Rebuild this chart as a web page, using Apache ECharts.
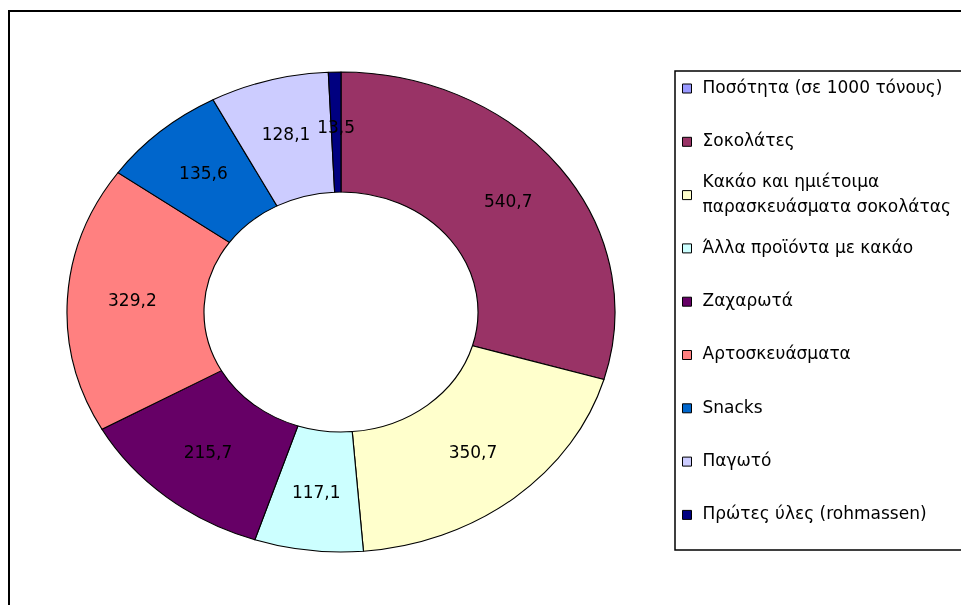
<!DOCTYPE html>
<html>
<head>
<meta charset="utf-8">
<script src="https://cdn.jsdelivr.net/npm/echarts@6/dist/echarts.min.js"></script>
<style>
    html, body { margin: 0; padding: 0; background: #fff; }
    #ring, #front { position: absolute; left: 0; top: 0; width: 961px; height: 605px; }
    /* the ring is drawn round and stretched sideways, like the Excel doughnut */
    #ring { transform: scaleX(1.1417); transform-origin: 341px 312px; }
</style>
</head>
<body>
<div id="ring"></div>
<div id="front"></div>
<script>
// categories and values (σε 1000 τόνους); the first entry has no slice
const categories = [
    'Ποσότητα (σε 1000 τόνους)',
    'Σοκολάτες',
    'Κακάο και ημιέτοιμα\nπαρασκευάσματα σοκολάτας',
    'Άλλα προϊόντα με κακάο',
    'Ζαχαρωτά',
    'Αρτοσκευάσματα',
    'Snacks',
    'Παγωτό',
    'Πρώτες ύλες (rohmassen)'
]
const values = ['-', 540.7, 350.7, 117.1, 215.7, 329.2, 135.6, 128.1, 13.5]

// styles and layout
const colors = ['#9999FF', '#993366', '#FFFFCC', '#CCFFFF', '#660066', '#FF8080', '#0066CC', '#CCCCFF', '#000080']
const center = [341, 312]
const radius = [120, 240]
const stretchX = 274 / 240
const legendY = [88.5, 141.8, 195.1, 248.4, 301.7, 355, 408.3, 461.6, 514.9]
const font = '"DejaVu Sans", sans-serif'

function fmt(v) {
    return v.toFixed(1).replace('.', ',')
}

// ring
const ring = echarts.init(document.getElementById('ring'), null, { renderer: 'svg' })
ring.setOption({
    animation: false,
    series: [{
        type: 'pie',
        center: center,
        radius: radius,
        startAngle: 90,
        clockwise: true,
        silent: true,
        label: { show: false },
        labelLine: { show: false },
        emphasis: { disabled: true },
        itemStyle: { borderColor: '#000', borderWidth: 1 },
        data: categories.map((name, i) => ({
            name: name,
            value: values[i],
            itemStyle: { color: colors[i] }
        }))
    }]
})

// labels, legend and frames on top
const front = echarts.init(document.getElementById('front'))
front.setOption({
    animation: false,
    legend: categories.map((name, i) => ({
        orient: 'vertical',
        left: 682,
        top: legendY[i] - (i === 2 ? 37.5 : 10),
        padding: 0,
        icon: 'rect',
        itemWidth: 9,
        itemHeight: 9,
        selectedMode: false,
        textStyle: {
            fontFamily: font,
            fontSize: 17,
            color: '#000',
            lineHeight: i === 2 ? 25 : 20,
            padding: i === 2 ? [25, 0, 0, 6] : [0, 0, 0, 6]
        },
        data: [{
            name: name,
            itemStyle: { color: colors[i], borderColor: '#000', borderWidth: 1 }
        }]
    })),
    graphic: [
        {
            type: 'rect',
            shape: { x: 9, y: 11, width: 1000, height: 700 },
            style: { fill: 'none', stroke: '#000', lineWidth: 2 }
        },
        {
            type: 'rect',
            shape: { x: 675, y: 71, width: 400, height: 479 },
            style: { fill: 'none', stroke: '#000', lineWidth: 1.5 }
        }
    ],
    series: [{
        type: 'pie',
        center: center,
        radius: radius,
        startAngle: 90,
        clockwise: true,
        silent: true,
        itemStyle: { color: 'rgba(0,0,0,0)' },
        emphasis: { disabled: true },
        labelLine: { show: false },
        label: {
            show: true,
            position: 'inside',
            color: '#000',
            fontFamily: font,
            fontSize: 17,
            formatter: (p) => fmt(p.value)
        },
        // move each label out the same way the ring is stretched
        labelLayout: (params) => {
            const r = params.labelRect
            return {
                x: center[0] + (r.x + r.width / 2 - center[0]) * stretchX,
                y: r.y + r.height / 2,
                align: 'center',
                verticalAlign: 'middle'
            }
        },
        data: categories.map((name, i) => ({
            name: name,
            value: values[i],
            label: { show: i > 0 }
        }))
    }]
})
</script>
</body>
</html>
